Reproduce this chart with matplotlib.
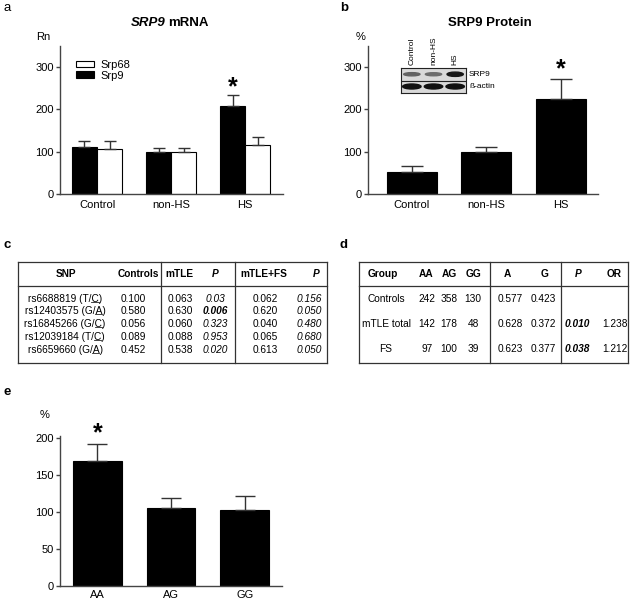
import numpy as np
import matplotlib
matplotlib.use("Agg")
import matplotlib.pyplot as plt
from matplotlib.lines import Line2D
from matplotlib.patches import Ellipse

plt.rcParams['font.family'] = ['Liberation Sans', 'DejaVu Sans']

# ----------------------
# Data
# ----------------------
groups = ["Control", "non-HS", "HS"]
srp9_mrna = [112, 99, 209]
srp9_mrna_err = [13, 10, 24]
srp68_mrna = [107, 100, 115]
srp68_mrna_err = [18, 9, 20]

srp9_protein = [53, 99, 224]
srp9_protein_err = [14, 13, 48]

# western blot band intensity (0..1), lanes Control, non-HS, HS
blot_srp9 = [0.55, 0.50, 0.90]
blot_actin = [0.92, 0.92, 0.92]

genotypes = ["AA", "AG", "GG"]
geno_expr = [169, 106, 103]
geno_err = [23, 13, 19]

# table c
snp_names = ["rs6688819 (T/C)", "rs12403575 (G/A)", "rs16845266 (G/C)",
             "rs12039184 (T/C)", "rs6659660 (G/A)"]
snp_controls = ["0.100", "0.580", "0.056", "0.089", "0.452"]
snp_mtle = ["0.063", "0.630", "0.060", "0.088", "0.538"]
snp_mtle_p = ["0.03", "0.006", "0.323", "0.953", "0.020"]
snp_mtlefs = ["0.062", "0.620", "0.040", "0.065", "0.613"]
snp_mtlefs_p = ["0.156", "0.050", "0.480", "0.680", "0.050"]
snp_bold_p = [False, True, False, False, False]

# table d
grp_names = ["Controls", "mTLE total", "FS"]
grp_aa = ["242", "142", "97"]
grp_ag = ["358", "178", "100"]
grp_gg = ["130", "48", "39"]
grp_a = ["0.577", "0.628", "0.623"]
grp_g = ["0.423", "0.372", "0.377"]
grp_p = ["", "0.010", "0.038"]
grp_or = ["", "1.238", "1.212"]

W, H = 630, 601
fig = plt.figure(figsize=(W / 100, H / 100), dpi=100)
fig.patch.set_facecolor("white")


def fx(x):
    return x / W


def fy(y):
    return 1 - y / H


def axes_px(l, t, r, b):
    return fig.add_axes([fx(l), fy(b), (r - l) / W, (b - t) / H])


AX_COL = "#444444"
TICK_FS = 8


def style(ax):
    for s in ["top", "right"]:
        ax.spines[s].set_visible(False)
    for s in ["left", "bottom"]:
        ax.spines[s].set_color(AX_COL)
        ax.spines[s].set_linewidth(1.0)
    ax.tick_params(axis="y", length=3, width=1, color=AX_COL, labelsize=TICK_FS, pad=1.5)
    ax.tick_params(axis="x", length=0, labelsize=TICK_FS, pad=4)


# ---------- panel a ----------
ax_a = axes_px(60, 46, 283, 194)
x = np.arange(len(groups))
w = 0.34
ax_a.bar(x - w / 2, srp9_mrna, w, color="black", edgecolor="black", lw=0.8, label="Srp9")
ax_a.bar(x + w / 2, srp68_mrna, w, color="white", edgecolor="black", lw=0.8, label="Srp68")
ax_a.errorbar(x - w / 2, srp9_mrna, yerr=[np.zeros(3), srp9_mrna_err], fmt="none",
              ecolor="#333333", elinewidth=1, capsize=4.5, capthick=1)
ax_a.errorbar(x + w / 2, srp68_mrna, yerr=[np.zeros(3), srp68_mrna_err], fmt="none",
              ecolor="#333333", elinewidth=1, capsize=4.5, capthick=1)
ax_a.set_xlim(-0.5, 2.51)
ax_a.set_ylim(0, 350)
ax_a.set_yticks([0, 100, 200, 300])
ax_a.set_xticks(x)
ax_a.set_xticklabels(groups)
style(ax_a)
h, l = ax_a.get_legend_handles_labels()
ax_a.legend(h[::-1], l[::-1], loc="upper left", bbox_to_anchor=(0.05, 0.935), frameon=False,
            fontsize=8, handlelength=1.7, handleheight=0.55, handletextpad=0.5,
            labelspacing=0.05, borderaxespad=0)
ax_a.text(2 - w / 2, srp9_mrna[2] + srp9_mrna_err[2] - 8, "*", ha="center", va="bottom",
          fontsize=18, fontweight="bold")

# ---------- panel b ----------
ax_b = axes_px(368, 46, 598, 194)
wb = 0.67
ax_b.bar(x, srp9_protein, wb, color="black", edgecolor="black", lw=0.8)
ax_b.errorbar(x, srp9_protein, yerr=[np.zeros(3), srp9_protein_err], fmt="none",
              ecolor="#333333", elinewidth=1, capsize=8, capthick=1)
ax_b.set_xlim(-0.59, 2.5)
ax_b.set_ylim(0, 350)
ax_b.set_yticks([0, 100, 200, 300])
ax_b.set_xticks(x)
ax_b.set_xticklabels(groups)
style(ax_b)
ax_b.text(2, srp9_protein[2] + srp9_protein_err[2] - 6, "*", ha="center", va="bottom",
          fontsize=18, fontweight="bold")

# western blot inset
ax_w = axes_px(401, 68, 466, 93)
ax_w.set_facecolor("#d9d9d9")
ax_w.set_xlim(0, 3)
ax_w.set_ylim(0, 2)
for i in range(3):
    g1 = 0.85 * (1 - blot_srp9[i])
    ax_w.add_patch(Ellipse((i + 0.5, 1.5), 0.75, 0.12 + 0.25 * blot_srp9[i],
                           color=str(g1)))
    g2 = 0.85 * (1 - blot_actin[i])
    ax_w.add_patch(Ellipse((i + 0.5, 0.52), 0.85, 0.4, color=str(g2)))
ax_w.axhline(1.0, color="#222222", lw=0.8)
ax_w.set_xticks([])
ax_w.set_yticks([])
for s in ax_w.spines.values():
    s.set_color("#222222")
    s.set_linewidth(0.8)
for i, lab in enumerate(groups):
    fig.text(fx(401 + (i + 0.5) * 65 / 3), fy(65), lab, rotation=90, ha="center",
             va="bottom", fontsize=6)
fig.text(fx(469), fy(74.5), "SRP9", fontsize=6, va="center")
fig.text(fx(469), fy(87), "ß-actin", fontsize=6, va="center")

# ---------- panel e ----------
ax_e = axes_px(60, 436, 282, 585.7)
we = 0.66
xe = np.arange(len(genotypes))
ax_e.bar(xe, geno_expr, we, color="black", edgecolor="black", lw=0.8)
ax_e.errorbar(xe, geno_expr, yerr=[np.zeros(3), geno_err], fmt="none",
              ecolor="#333333", elinewidth=1, capsize=7.5, capthick=1)
ax_e.set_xlim(-0.507, 2.507)
ax_e.set_ylim(0, 203)
ax_e.set_yticks([0, 50, 100, 150, 200])
ax_e.set_xticks(xe)
ax_e.set_xticklabels(genotypes)
style(ax_e)
ax_e.tick_params(axis="x", pad=3)
ax_e.text(0, geno_expr[0] + geno_err[0] - 2, "*", ha="center", va="bottom",
          fontsize=18, fontweight="bold", clip_on=False)

# ---------- texts: panel letters, titles, units ----------
fig.text(fx(3), fy(8), "a", fontsize=9.5, va="center")
fig.text(fx(340), fy(8), "b", fontsize=9.5, va="center", fontweight="bold")
fig.text(fx(3), fy(245), "c", fontsize=9.5, va="center", fontweight="bold")
fig.text(fx(340), fy(245), "d", fontsize=9.5, va="center", fontweight="bold")
fig.text(fx(3), fy(392), "e", fontsize=9.5, va="center", fontweight="bold")

fig.text(fx(166), fy(23), "SRP9", fontsize=9.5, fontweight="bold", style="italic",
         ha="right", va="center")
fig.text(fx(168), fy(23), "mRNA", fontsize=9.5, fontweight="bold", ha="left", va="center")
fig.text(fx(490), fy(23), "SRP9 Protein", fontsize=9.5, fontweight="bold", ha="center",
         va="center")
fig.text(fx(36), fy(37), "Rn", fontsize=8, va="center")
fig.text(fx(356), fy(37), "%", fontsize=8, va="center")
fig.text(fx(40), fy(415), "%", fontsize=8, va="center")

# ---------- tables ----------
TS = 7.3
LC = "#333333"


def hline(x0, x1, y):
    fig.add_artist(Line2D([fx(x0), fx(x1)], [fy(y), fy(y)], color=LC, lw=0.9))


def vline(x, y0, y1):
    fig.add_artist(Line2D([fx(x), fx(x)], [fy(y0), fy(y1)], color=LC, lw=0.9))


# table c frame
c_top, c_head, c_bot = 262, 286, 363
hline(18, 327, c_top)
hline(18, 327, c_head)
hline(18, 327, c_bot)
for xv in [18, 161, 235, 327]:
    vline(xv, c_top, c_bot)
hy = 274
fig.text(fx(66), fy(hy), "SNP", fontsize=TS, fontweight="bold", ha="center", va="center")
fig.text(fx(159), fy(hy), "Controls", fontsize=TS, fontweight="bold", ha="right", va="center")
fig.text(fx(165), fy(hy), "mTLE", fontsize=TS, fontweight="bold", ha="left", va="center")
fig.text(fx(215), fy(hy), "P", fontsize=TS, fontweight="bold", style="italic", ha="center",
         va="center")
fig.text(fx(240), fy(hy), "mTLE+FS", fontsize=TS, fontweight="bold", ha="left", va="center")
fig.text(fx(316), fy(hy), "P", fontsize=TS, fontweight="bold", style="italic", ha="center",
         va="center")

c_rows = [299, 311.5, 324, 337, 350]
name_texts = []
for i, yy in enumerate(c_rows):
    t = fig.text(fx(65), fy(yy), snp_names[i], fontsize=TS, ha="center", va="center")
    name_texts.append(t)
    fig.text(fx(133), fy(yy), snp_controls[i], fontsize=TS, ha="center", va="center")
    fig.text(fx(180), fy(yy), snp_mtle[i], fontsize=TS, ha="center", va="center")
    fig.text(fx(215), fy(yy), snp_mtle_p[i], fontsize=TS, ha="center", va="center",
             style="italic", fontweight="bold" if snp_bold_p[i] else "normal")
    fig.text(fx(265), fy(yy), snp_mtlefs[i], fontsize=TS, ha="center", va="center")
    fig.text(fx(309), fy(yy), snp_mtlefs_p[i], fontsize=TS, ha="center", va="center",
             style="italic")

# underline the minor allele in each SNP name
fig.canvas.draw()
rend = fig.canvas.get_renderer()
for t, s in zip(name_texts, snp_names):
    bb = t.get_window_extent(rend)
    k = len(s) - 2
    tmp = fig.text(0, 0, s[:k], fontsize=TS)
    wpre = tmp.get_window_extent(rend).width
    tmp.set_text(s[k])
    wlet = tmp.get_window_extent(rend).width
    tmp.remove()
    x0 = (bb.x0 + wpre) / W
    x1 = (bb.x0 + wpre + wlet) / W
    yl = (bb.y0 + 2.4) / H
    fig.add_artist(Line2D([x0, x1], [yl, yl], color="#222222", lw=0.6))

# table d frame
d_l, d_r = 359, 628
hline(d_l, d_r, c_top)
hline(d_l, d_r, c_head)
hline(d_l, d_r, c_bot)
for xv in [d_l, 490, 561, d_r]:
    vline(xv, c_top, c_bot)
d_head = [("Group", 383, "normal"), ("AA", 426, "normal"), ("AG", 449, "normal"),
          ("GG", 473, "normal"), ("A", 507, "normal"), ("G", 545, "normal"),
          ("P", 578, "italic"), ("OR", 614, "normal")]
for lab, xx, st in d_head:
    fig.text(fx(xx), fy(hy), lab, fontsize=TS, fontweight="bold", style=st, ha="center",
             va="center")
d_rows = [299, 324, 349]
for i, yy in enumerate(d_rows):
    fig.text(fx(386), fy(yy), grp_names[i], fontsize=TS, ha="center", va="center")
    fig.text(fx(427), fy(yy), grp_aa[i], fontsize=TS, ha="center", va="center")
    fig.text(fx(449), fy(yy), grp_ag[i], fontsize=TS, ha="center", va="center")
    fig.text(fx(473), fy(yy), grp_gg[i], fontsize=TS, ha="center", va="center")
    fig.text(fx(510), fy(yy), grp_a[i], fontsize=TS, ha="center", va="center")
    fig.text(fx(543), fy(yy), grp_g[i], fontsize=TS, ha="center", va="center")
    fig.text(fx(577), fy(yy), grp_p[i], fontsize=TS, ha="center", va="center",
             style="italic", fontweight="bold")
    fig.text(fx(615), fy(yy), grp_or[i], fontsize=TS, ha="center", va="center")

fig.savefig("out.png", dpi=100)
